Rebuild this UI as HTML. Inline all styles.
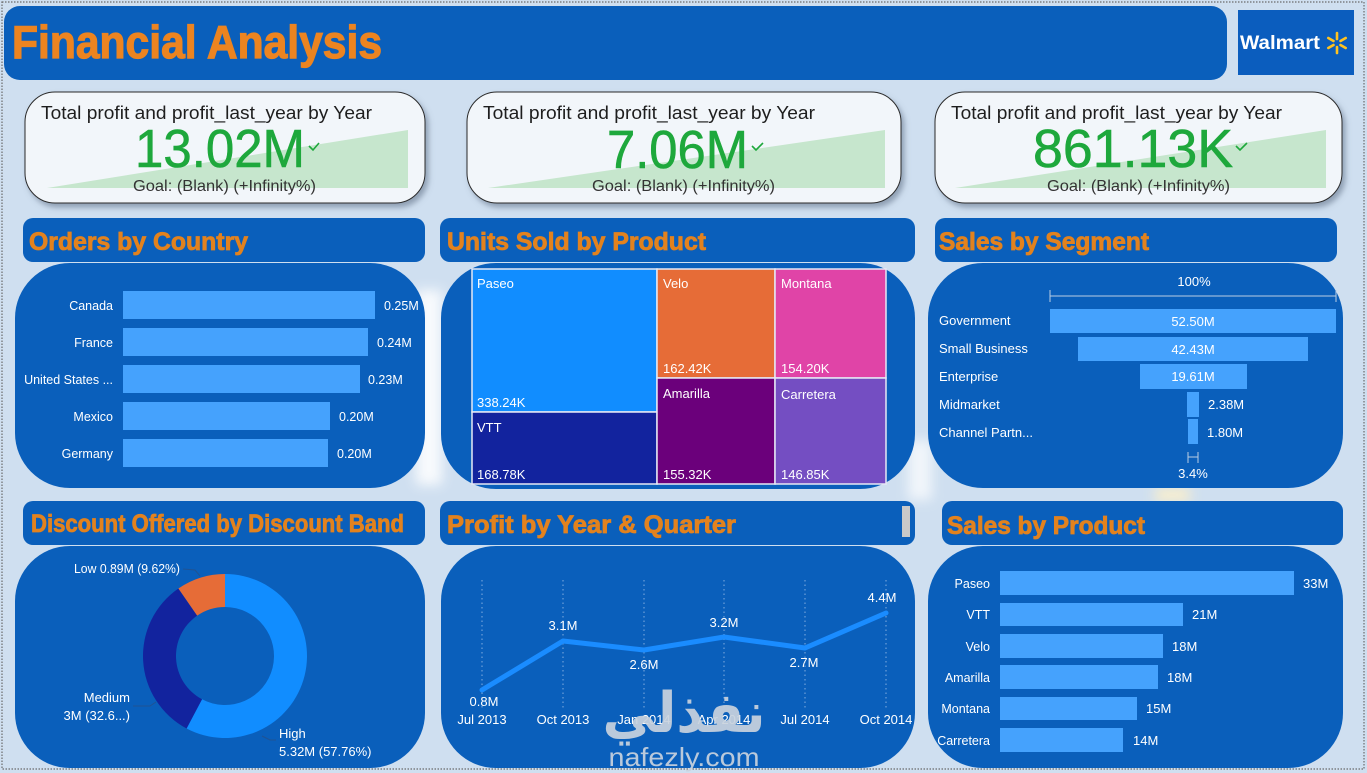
<!DOCTYPE html>
<html>
<head>
<meta charset="utf-8">
<style>
  html,body{margin:0;padding:0;background:#cfdff0;}
  svg{display:block;}
  text{font-family:"Liberation Sans", "DejaVu Sans", sans-serif;}
</style>
</head>
<body>
<svg width="1367" height="773" viewBox="0 0 1367 773" xmlns="http://www.w3.org/2000/svg">
  <defs>
    <filter id="sh" x="-10%" y="-20%" width="130%" height="150%">
      <feDropShadow dx="3" dy="4" stdDeviation="3" flood-color="#5a6a80" flood-opacity="0.55"/>
    </filter>
    <filter id="blur" x="-50%" y="-50%" width="200%" height="200%">
      <feGaussianBlur stdDeviation="6"/>
    </filter>
  </defs>

  <!-- background -->
  <rect x="0" y="0" width="1367" height="773" fill="#cfdff0"/>
  <rect x="416" y="290" width="26" height="195" fill="#ffffff" opacity="0.85" filter="url(#blur)"/>
  <rect x="908" y="440" width="24" height="60" fill="#ffffff" opacity="0.7" filter="url(#blur)"/>
  <rect x="1155" y="488" width="35" height="14" fill="#fff1c8" opacity="0.9" filter="url(#blur)"/>
  <rect x="2" y="2" width="1362" height="767" fill="none" stroke="#6b6b6b" stroke-width="1.2" stroke-dasharray="1.5,1.5"/>

  <!-- header -->
  <rect x="4" y="6" width="1223" height="74" rx="16" fill="#0a5fbb"/>
  <text x="12" y="58" font-size="46" font-weight="bold" fill="#ec8420" stroke="#ec8420" stroke-width="1.2" textLength="370" lengthAdjust="spacingAndGlyphs">Financial Analysis</text>

  <!-- walmart logo -->
  <rect x="1238" y="10" width="116" height="65" fill="#0b5dbe"/>
  <text x="1240" y="49" font-size="19" font-weight="bold" fill="#ffffff" textLength="80" lengthAdjust="spacingAndGlyphs">Walmart</text>
  <g stroke="#ffc220" stroke-width="2.6" stroke-linecap="round">
    <line x1="1337" y1="39" x2="1337" y2="33"/>
    <line x1="1337" y1="47" x2="1337" y2="53"/>
    <line x1="1333.5" y1="41" x2="1328.3" y2="38"/>
    <line x1="1340.5" y1="41" x2="1345.7" y2="38"/>
    <line x1="1333.5" y1="45" x2="1328.3" y2="48"/>
    <line x1="1340.5" y1="45" x2="1345.7" y2="48"/>
  </g>

  <!-- KPI cards -->
  <g filter="url(#sh)">
    <rect x="25" y="92" width="400" height="111" rx="30" fill="#f2f6fa" stroke="#2a2a2a" stroke-width="1"/>
    <rect x="467" y="92" width="434" height="111" rx="30" fill="#f2f6fa" stroke="#2a2a2a" stroke-width="1"/>
    <rect x="935" y="92" width="407" height="111" rx="30" fill="#f2f6fa" stroke="#2a2a2a" stroke-width="1"/>
  </g>
  <polygon points="47,188 408,130 408,188" fill="#c6e6cd"/>
  <polygon points="488,188 885,130 885,188" fill="#c6e6cd"/>
  <polygon points="955,188 1326,130 1326,188" fill="#c6e6cd"/>

  <text x="41" y="119" font-size="18" fill="#1e1e1e" textLength="331" lengthAdjust="spacingAndGlyphs">Total profit and profit_last_year by Year</text>
  <text x="483" y="119" font-size="18" fill="#1e1e1e" textLength="332" lengthAdjust="spacingAndGlyphs">Total profit and profit_last_year by Year</text>
  <text x="951" y="119" font-size="18" fill="#1e1e1e" textLength="331" lengthAdjust="spacingAndGlyphs">Total profit and profit_last_year by Year</text>

  <text x="135" y="167" font-size="54" fill="#1ea83c" stroke="#1ea83c" stroke-width="0.6" textLength="170" lengthAdjust="spacingAndGlyphs">13.02M</text>
  <text x="607" y="168" font-size="54" fill="#1ea83c" stroke="#1ea83c" stroke-width="0.6" textLength="141" lengthAdjust="spacingAndGlyphs">7.06M</text>
  <text x="1033" y="167" font-size="54" fill="#1ea83c" stroke="#1ea83c" stroke-width="0.6" textLength="200" lengthAdjust="spacingAndGlyphs">861.13K</text>

  <g fill="none" stroke="#1ea83c" stroke-width="1.6">
    <polyline points="309,146 313,150 319,143"/>
    <polyline points="752,146 756,150 763,143"/>
    <polyline points="1236,146 1240,150 1247,143"/>
  </g>

  <text x="133" y="191" font-size="16" fill="#333" textLength="183" lengthAdjust="spacingAndGlyphs">Goal: (Blank) (+Infinity%)</text>
  <text x="592" y="191" font-size="16" fill="#333" textLength="183" lengthAdjust="spacingAndGlyphs">Goal: (Blank) (+Infinity%)</text>
  <text x="1047" y="191" font-size="16" fill="#333" textLength="183" lengthAdjust="spacingAndGlyphs">Goal: (Blank) (+Infinity%)</text>

  <!-- section headers -->
  <g fill="#0a5fbb">
    <rect x="23" y="218" width="402" height="44" rx="10"/>
    <rect x="440" y="218" width="475" height="44" rx="10"/>
    <rect x="935" y="218" width="402" height="44" rx="10"/>
    <rect x="23" y="501" width="402" height="44" rx="10"/>
    <rect x="440" y="501" width="475" height="44" rx="10"/>
    <rect x="942" y="501" width="401" height="44" rx="10"/>
  </g>
  <g font-size="25" font-weight="bold" fill="#e2821e" stroke="#e2821e" stroke-width="0.8">
    <text x="29" y="250" textLength="219" lengthAdjust="spacingAndGlyphs">Orders by Country</text>
    <text x="447" y="250" textLength="259" lengthAdjust="spacingAndGlyphs">Units Sold by Product</text>
    <text x="939" y="250" textLength="210" lengthAdjust="spacingAndGlyphs">Sales by Segment</text>
    <text x="31" y="532" textLength="373" lengthAdjust="spacingAndGlyphs">Discount Offered by Discount Band</text>
    <text x="447" y="533" textLength="289" lengthAdjust="spacingAndGlyphs">Profit by Year &amp; Quarter</text>
    <text x="947" y="534" textLength="198" lengthAdjust="spacingAndGlyphs">Sales by Product</text>
  </g>
  <rect x="902" y="506" width="8" height="31" fill="#c9c9c9"/>

  <!-- main panels -->
  <g fill="#0a5fbb">
    <rect x="15" y="263" width="410" height="225" rx="55"/>
    <rect x="441" y="263" width="474" height="226" rx="55"/>
    <rect x="928" y="263" width="415" height="225" rx="55"/>
    <rect x="15" y="546" width="410" height="222" rx="55"/>
    <rect x="441" y="546" width="474" height="222" rx="55"/>
    <rect x="928" y="546" width="415" height="222" rx="55"/>
  </g>

  <!-- Orders by Country -->
  <g fill="#45a2fd">
    <rect x="123" y="291" width="252" height="28"/>
    <rect x="123" y="328" width="245" height="28"/>
    <rect x="123" y="365" width="237" height="28"/>
    <rect x="123" y="402" width="207" height="28"/>
    <rect x="123" y="439" width="205" height="28"/>
  </g>
  <g font-size="12.5" fill="#ffffff" text-anchor="end">
    <text x="113" y="310">Canada</text>
    <text x="113" y="347">France</text>
    <text x="113" y="384">United States ...</text>
    <text x="113" y="421">Mexico</text>
    <text x="113" y="458">Germany</text>
  </g>
  <g font-size="12.5" fill="#ffffff">
    <text x="384" y="310">0.25M</text>
    <text x="377" y="347">0.24M</text>
    <text x="368" y="384">0.23M</text>
    <text x="339" y="421">0.20M</text>
    <text x="337" y="458">0.20M</text>
  </g>

  <!-- Treemap -->
  <g stroke="#e6e9f5" stroke-width="1.5">
    <rect x="472" y="269" width="185" height="143" fill="#118dff"/>
    <rect x="472" y="412" width="185" height="72" fill="#12239e"/>
    <rect x="657" y="269" width="118" height="109" fill="#e66c37"/>
    <rect x="775" y="269" width="111" height="109" fill="#e044a7"/>
    <rect x="657" y="378" width="118" height="106" fill="#6b007b"/>
    <rect x="775" y="378" width="111" height="106" fill="#744ec2"/>
  </g>
  <g font-size="13" fill="#ffffff">
    <text x="477" y="288">Paseo</text>
    <text x="477" y="407">338.24K</text>
    <text x="477" y="432">VTT</text>
    <text x="477" y="479">168.78K</text>
    <text x="663" y="288">Velo</text>
    <text x="663" y="373">162.42K</text>
    <text x="781" y="288">Montana</text>
    <text x="781" y="373">154.20K</text>
    <text x="663" y="398">Amarilla</text>
    <text x="663" y="479">155.32K</text>
    <text x="781" y="399">Carretera</text>
    <text x="781" y="479">146.85K</text>
  </g>

  <!-- Sales by Segment funnel -->
  <text x="1194" y="286" font-size="13" fill="#fff" text-anchor="middle">100%</text>
  <g stroke="#b9cde3" stroke-width="1">
    <line x1="1050" y1="296" x2="1336" y2="296"/>
    <line x1="1050" y1="290" x2="1050" y2="302"/>
    <line x1="1336" y1="290" x2="1336" y2="302"/>
    <line x1="1188" y1="452" x2="1188" y2="463"/>
    <line x1="1198" y1="452" x2="1198" y2="463"/>
    <line x1="1188" y1="457" x2="1198" y2="457"/>
  </g>
  <g fill="#45a2fd">
    <rect x="1050" y="309" width="286" height="24"/>
    <rect x="1078" y="337" width="230" height="24"/>
    <rect x="1140" y="364" width="107" height="25"/>
    <rect x="1187" y="392" width="12" height="25"/>
    <rect x="1188" y="419" width="10" height="25"/>
  </g>
  <g font-size="13" fill="#ffffff">
    <text x="939" y="325">Government</text>
    <text x="939" y="353">Small Business</text>
    <text x="939" y="381">Enterprise</text>
    <text x="939" y="409">Midmarket</text>
    <text x="939" y="437">Channel Partn...</text>
    <text x="1193" y="326" text-anchor="middle">52.50M</text>
    <text x="1193" y="354" text-anchor="middle">42.43M</text>
    <text x="1193" y="381" text-anchor="middle">19.61M</text>
    <text x="1208" y="409">2.38M</text>
    <text x="1207" y="437">1.80M</text>
    <text x="1193" y="478" text-anchor="middle">3.4%</text>
  </g>

  <!-- Donut -->
  <path d="M225,574 A82,82 0 1 1 186.58,728.44 L202.04,699.29 A49,49 0 1 0 225,607 Z" fill="#118dff"/>
  <path d="M186.58,728.44 A82,82 0 0 1 178.40,588.53 L197.15,615.68 A49,49 0 0 0 202.04,699.29 Z" fill="#12239e"/>
  <path d="M178.40,588.53 A82,82 0 0 1 225,574 L225,607 A49,49 0 0 0 197.15,615.68 Z" fill="#e66c37"/>
  <g stroke="#2a4f82" stroke-width="1" fill="none" opacity="0.7">
    <polyline points="183,569 195,570 200,576"/>
    <polyline points="133,706 150,706 156,702"/>
    <polyline points="262,736 270,740 276,740"/>
  </g>
  <g font-size="13" fill="#ffffff">
    <text x="74" y="573" textLength="106" lengthAdjust="spacingAndGlyphs">Low 0.89M (9.62%)</text>
    <text x="130" y="702" text-anchor="end">Medium</text>
    <text x="130" y="720" text-anchor="end">3M (32.6...)</text>
    <text x="279" y="738">High</text>
    <text x="279" y="756">5.32M (57.76%)</text>
  </g>

  <!-- Line chart -->
  <g stroke="#8fb6e3" stroke-width="1" stroke-dasharray="1.5,3" opacity="0.9">
    <line x1="482" y1="580" x2="482" y2="710"/>
    <line x1="563" y1="580" x2="563" y2="710"/>
    <line x1="644" y1="580" x2="644" y2="710"/>
    <line x1="724" y1="580" x2="724" y2="710"/>
    <line x1="805" y1="580" x2="805" y2="710"/>
    <line x1="886" y1="580" x2="886" y2="710"/>
  </g>
  <polyline points="482,690 563,641 644,650 724,637 805,648 886,613" fill="none" stroke="#1a8cff" stroke-width="5" stroke-linejoin="round" stroke-linecap="round"/>
  <g font-size="13" fill="#ffffff" text-anchor="middle">
    <text x="484" y="706">0.8M</text>
    <text x="563" y="630">3.1M</text>
    <text x="644" y="669">2.6M</text>
    <text x="724" y="627">3.2M</text>
    <text x="804" y="667">2.7M</text>
    <text x="882" y="602">4.4M</text>
    <text x="482" y="724">Jul 2013</text>
    <text x="563" y="724">Oct 2013</text>
    <text x="644" y="724">Jan 2014</text>
    <text x="724" y="724">Apr 2014</text>
    <text x="805" y="724">Jul 2014</text>
    <text x="886" y="724">Oct 2014</text>
  </g>

  <!-- watermark -->
  <text x="684" y="732" font-family="DejaVu Sans, sans-serif" font-size="56" font-weight="bold" fill="#c9d3de" opacity="0.92" text-anchor="middle" textLength="163" lengthAdjust="spacingAndGlyphs">نفذلي</text>
  <text x="684" y="766" font-size="26" fill="#c9d3de" opacity="0.92" text-anchor="middle" textLength="151" lengthAdjust="spacingAndGlyphs">nafezly.com</text>

  <!-- Sales by Product -->
  <g fill="#45a2fd">
    <rect x="1000" y="571" width="294" height="24"/>
    <rect x="1000" y="603" width="183" height="23"/>
    <rect x="1000" y="634" width="163" height="24"/>
    <rect x="1000" y="665" width="158" height="24"/>
    <rect x="1000" y="697" width="137" height="23"/>
    <rect x="1000" y="728" width="123" height="24"/>
  </g>
  <g font-size="12.5" fill="#ffffff" text-anchor="end">
    <text x="990" y="588">Paseo</text>
    <text x="990" y="619">VTT</text>
    <text x="990" y="651">Velo</text>
    <text x="990" y="682">Amarilla</text>
    <text x="990" y="713">Montana</text>
    <text x="990" y="745">Carretera</text>
  </g>
  <g font-size="13" fill="#ffffff">
    <text x="1303" y="588">33M</text>
    <text x="1192" y="619">21M</text>
    <text x="1172" y="651">18M</text>
    <text x="1167" y="682">18M</text>
    <text x="1146" y="713">15M</text>
    <text x="1133" y="745">14M</text>
  </g>
</svg>
</body>
</html>
